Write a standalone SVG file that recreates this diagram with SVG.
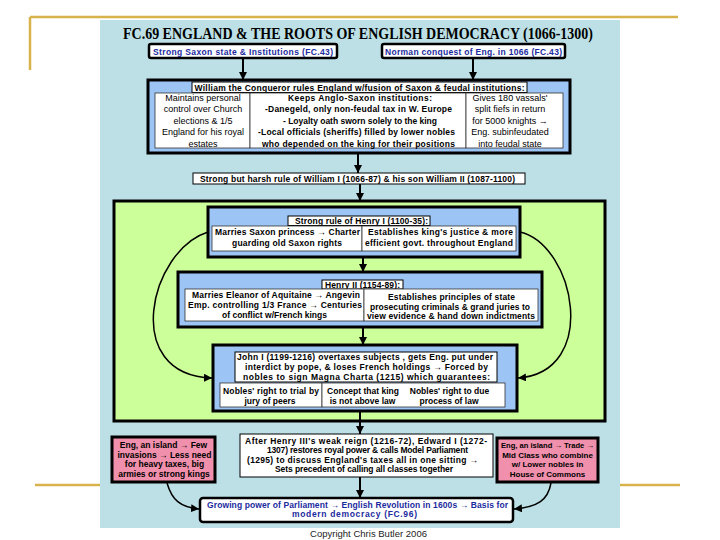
<svg xmlns="http://www.w3.org/2000/svg" width="720" height="540" viewBox="0 0 720 540">
<style>
.t{font-family:"Liberation Sans",Arial,sans-serif;font-weight:bold;font-size:8.5px;fill:#000;text-anchor:middle}
.r{font-weight:normal;font-size:9px}
.s{font-size:8px}
.bl{fill:#1b2a9e}
.wb{fill:#fff;stroke:#000;stroke-width:1}
.cell{fill:#fff;stroke:#333;stroke-width:0.8}
.blu{fill:#9cc4f4;stroke:#000;stroke-width:3}
.pink{fill:#f090ac;stroke:#000;stroke-width:3}
.ref{fill:#fff;stroke:#000;stroke-width:2.5}
.con{fill:none;stroke:#000;stroke-width:2}
.arc{fill:none;stroke:#000;stroke-width:1.5}
.gold{stroke:#d8b24a;stroke-width:2.5;fill:none}
</style>
<defs>
<marker id="ah" viewBox="0 0 10 10" refX="10" refY="5" markerWidth="8" markerHeight="8" markerUnits="userSpaceOnUse" orient="auto"><path d="M0,0 L10,5 L0,10 z" fill="#000"/></marker>
</defs>
<rect x="0" y="0" width="720" height="540" fill="#fff"/>
<g id="template">
<path class="gold" d="M30,17 H678 M30,17 V70 M35,485 H680"/>
<rect x="100" y="20" width="520" height="508" fill="#bde0e6"/>
</g>
<g id="title"><text x="358" y="39" textLength="470" lengthAdjust="spacingAndGlyphs" style="font-family:'Liberation Serif','Times New Roman',serif;font-weight:bold;font-size:16px;text-anchor:middle;fill:#000">FC.69 ENGLAND &amp; THE ROOTS OF ENGLISH DEMOCRACY (1066-1300)</text></g>

<g id="green"><rect x="114" y="201" width="491" height="220" fill="#ccff99" stroke="#000" stroke-width="3"/></g>

<g id="connectors">
<path class="con" marker-end="url(#ah)" d="M243,58 V80"/>
<path class="con" marker-end="url(#ah)" d="M473,58 V80"/>
<path class="con" marker-end="url(#ah)" d="M358,153 V173"/>
<path class="con" marker-end="url(#ah)" d="M360,184 V201"/>
<path class="con" marker-end="url(#ah)" d="M363,257 V272"/>
<path class="con" marker-end="url(#ah)" d="M363,327 V345"/>
<path class="con" marker-end="url(#ah)" d="M360,411 V434"/>
<path class="con" marker-end="url(#ah)" d="M360,477 V498"/>
<path class="arc" marker-end="url(#ah)" d="M208,232 C150,250 120,375 212,378"/>
<path class="arc" marker-end="url(#ah)" d="M520,232 C575,245 600,372 518,378"/>
<path class="arc" marker-end="url(#ah)" d="M167,483 C172,500 180,507 199,509"/>
<path class="arc" marker-end="url(#ah)" d="M551,483 C548,500 538,507 514,509"/>
</g>

<g id="saxon"><rect class="ref" x="149" y="44" width="188" height="14" rx="2"/><text class="t bl" x="243" y="54.5" textLength="180">Strong Saxon state &amp; Institutions  (FC.43)</text></g>
<g id="norman"><rect class="ref" x="382" y="44" width="183" height="14" rx="2"/><text class="t bl" x="473.5" y="54.5" textLength="177">Norman conquest of Eng. in 1066  (FC.43)</text></g>

<g id="william">
<rect class="blu" x="148" y="80" width="422" height="73"/>
<rect class="wb" x="192" y="82" width="335" height="10.5"/>
<text class="t" x="359.5" y="90.5" textLength="330">William the Conqueror rules England w/fusion of Saxon &amp; feudal institutions:</text>
<rect class="cell" x="155" y="93" width="95" height="55"/>
<rect class="cell" x="250" y="93" width="216" height="55"/>
<rect class="cell" x="466" y="93" width="97" height="55"/>
<text class="t r" x="203" y="100.5">Maintains personal</text>
<text class="t r" x="203" y="112">control over Church</text>
<text class="t r" x="203" y="123.5">elections &amp; 1/5</text>
<text class="t r" x="203" y="135">England for his royal</text>
<text class="t r" x="203" y="146.5">estates</text>
<text class="t" x="360" y="100.5" textLength="144">Keeps Anglo-Saxon institutions:</text>
<text class="t" x="358.5" y="112" textLength="187">-Danegeld, only non-feudal tax in W. Europe</text>
<text class="t" x="360" y="123.5" textLength="154">- Loyalty oath sworn solely to the king</text>
<text class="t" x="356.5" y="135" textLength="197">-Local officials (sheriffs) filled by lower nobles</text>
<text class="t" x="358.5" y="146.5" textLength="193">who depended on the king for their positions</text>
<text class="t r" x="510" y="100.5">Gives 180 vassals'</text>
<text class="t r" x="510" y="112">split fiefs in return</text>
<text class="t r" x="510" y="123.5">for 5000 knights →</text>
<text class="t r" x="510" y="135">Eng. subinfeudated</text>
<text class="t r" x="510" y="146.5">into feudal state</text>
</g>

<g id="harsh"><rect class="wb" x="193" y="173" width="332" height="11" stroke-width="1.5"/><text class="t" x="357.5" y="182" textLength="315">Strong but harsh rule of William I (1066-87) &amp; his son William II (1087-1100)</text></g>

<g id="henry1">
<rect class="blu" x="208" y="207" width="312" height="50"/>
<rect class="wb" x="288" y="216" width="142" height="9.5"/>
<text class="t" x="361.5" y="223.8" textLength="133">Strong rule of Henry I (1100-35):</text>
<rect class="cell" x="212" y="226" width="150" height="25"/>
<rect class="cell" x="362" y="226" width="154" height="25"/>
<text class="t" x="287.5" y="234.5" textLength="145">Marries Saxon princess → Charter</text>
<text class="t" x="287" y="246" textLength="110">guarding old Saxon rights</text>
<text class="t" x="440.5" y="234.5" textLength="145">Establishes king's justice &amp; more</text>
<text class="t" x="439" y="246" textLength="148">efficient govt. throughout England</text>
</g>

<g id="henry2">
<rect class="blu" x="178" y="272" width="364" height="55"/>
<rect class="wb" x="322" y="280" width="81" height="9"/>
<text class="t" x="362.5" y="287.8" textLength="75">Henry II (1154-89):</text>
<rect class="cell" x="185" y="289" width="179" height="32"/>
<rect class="cell" x="364" y="289" width="174" height="32"/>
<text class="t" x="276" y="297.5" textLength="168">Marries Eleanor of Aquitaine → Angevin</text>
<text class="t" x="275" y="308" textLength="174">Emp. controlling 1/3 France → Centuries</text>
<text class="t" x="274.5" y="318" textLength="105">of conflict w/French kings</text>
<text class="t" x="451.5" y="300" textLength="127">Establishes principles of state</text>
<text class="t" x="450" y="309.5" textLength="160">prosecuting criminals &amp; grand juries to</text>
<text class="t" x="451" y="319" textLength="168">view evidence &amp; hand down indictments</text>
</g>

<g id="john">
<rect class="blu" x="213" y="345" width="304" height="66"/>
<rect class="wb" x="235" y="352" width="262" height="30"/>
<text class="t" x="365" y="359.5" textLength="256">John I (1199-1216) overtaxes subjects , gets Eng. put under</text>
<text class="t" x="366.5" y="369.5" textLength="243">interdict by pope, &amp; loses French holdings → Forced by</text>
<text class="t" x="366.5" y="380" textLength="247">nobles to sign Magna Charta (1215) which guarantees:</text>
<rect class="cell" x="220" y="383" width="102" height="24"/>
<rect class="cell" x="322" y="383" width="183" height="24"/>
<text class="t" x="271" y="394" textLength="96">Nobles' right to trial by</text>
<text class="t" x="270" y="403.5">jury of peers</text>
<text class="t" x="363" y="394">Concept that king</text>
<text class="t" x="362.5" y="403.5">is not above law</text>
<text class="t" x="449.5" y="394">Nobles' right to due</text>
<text class="t" x="449" y="403.5">process of law</text>
</g>

<g id="island1">
<rect class="pink" x="112" y="437" width="103" height="45"/>
<text class="t" x="163.5" y="448">Eng, an island → Few</text>
<text class="t" x="164.5" y="457.5">invasions → Less need</text>
<text class="t" x="164.5" y="467">for heavy taxes, big</text>
<text class="t" x="164" y="477">armies or strong kings</text>
</g>

<g id="edward">
<rect class="wb" x="240" y="434" width="253" height="43"/>
<text class="t" x="366" y="444" textLength="242">After Henry III's weak reign (1216-72), Edward I (1272-</text>
<text class="t" x="367.5" y="453" textLength="201">1307) restores royal power &amp; calls Model Parliament</text>
<text class="t" x="362.5" y="462.5" textLength="231">(1295) to discuss England's taxes all in one sitting →</text>
<text class="t" x="364" y="472" textLength="178">Sets precedent of calling all classes together</text>
</g>

<g id="island2">
<rect class="pink" x="497" y="438" width="101" height="44"/>
<text class="t s" x="547.5" y="448" textLength="93" lengthAdjust="spacingAndGlyphs">Eng, an island → Trade →</text>
<text class="t s" x="547.5" y="457.5">Mid Class who combine</text>
<text class="t s" x="547.5" y="467">w/ Lower nobles in</text>
<text class="t s" x="547.5" y="477">House of Commons</text>
</g>

<g id="growing">
<rect class="ref" x="200" y="498" width="313" height="24" rx="3"/>
<text class="t bl" x="357.5" y="508" textLength="301">Growing power of Parliament → English Revolution in 1600s → Basis for</text>
<text class="t bl" x="354.5" y="517" textLength="125">modern democracy  (FC.96)</text>
</g>

<g id="copyright"><text class="t r" x="368.5" y="536.5" textLength="117" style="font-size:9.5px;fill:#222">Copyright Chris Butler 2006</text></g>
</svg>
